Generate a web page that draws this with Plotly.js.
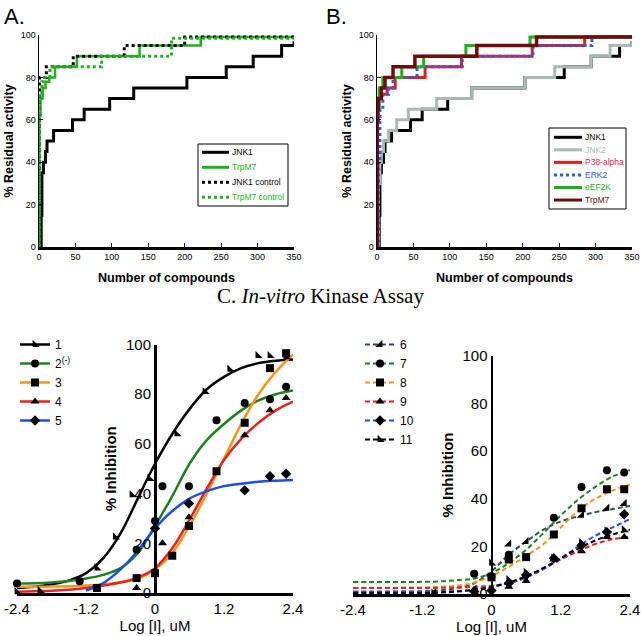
<!DOCTYPE html>
<html><head><meta charset="utf-8">
<script src="https://cdn.plot.ly/plotly-3.0.1.min.js"></script>
<style>html,body{margin:0;padding:0;background:#fff}#chart{width:641px;height:636px}</style>
</head><body><div id="chart"></div>
<script>
// ---------- Panel A data (step curves) ----------
const aJnk1X = [0, 3, 4, 6, 9, 11, 20, 46, 62, 97, 130, 203, 257, 294, 333, 350];
const aJnk1Y = [0, 15, 35, 40, 45, 50, 55, 60, 65, 70, 75, 80, 85, 90, 95, 97];
const aTrpX = [0, 0.5, 2, 5, 9, 14, 22, 52, 138, 222, 350];
const aTrpY = [0, 62, 70, 75, 78, 80, 85, 90, 95, 99, 100];
const aJnk1cX = [0, 0.8, 10, 47, 117, 200, 350];
const aJnk1cY = [0, 80, 85, 90, 95, 99, 99];
const aTrpcX = [0, 0.5, 4, 8, 15, 86, 182, 350];
const aTrpcY = [0, 72, 78, 80, 85, 90, 98.5, 99];
const aNames = ['JNK1', 'TrpM7', 'JNK1 control', 'TrpM7 control'];

// ---------- Panel B data ----------
const bJnk1X = [0, 3, 4, 6, 9, 11, 20, 46, 62, 97, 130, 203, 257, 294, 333, 350];
const bJnk1Y = [0, 15, 35, 40, 45, 50, 55, 60, 65, 70, 75, 80, 85, 90, 95, 97];
const bJnk2X = [0, 2, 4, 6, 9, 16, 27, 43, 82, 130, 203, 244, 294, 320, 350];
const bJnk2Y = [0, 30, 40, 45, 50, 55, 60, 65, 70, 75, 80, 85, 90, 95, 97];
const bP38X = [0, 0.5, 2, 6, 14, 25, 66, 116, 213, 285, 317, 350];
const bP38Y = [0, 60, 70, 72, 75, 80, 85, 90, 95, 99, 100, 100];
const bErkX = [0, 2, 4, 8, 16, 22, 55, 117, 214, 295, 306, 350];
const bErkY = [0, 40, 65, 72, 75, 80, 85, 90, 95, 99, 100, 100];
const bEefX = [0, 0.5, 3, 8, 34, 64, 122, 210, 350];
const bEefY = [0, 65, 75, 80, 85, 90, 95, 99, 100];
const bTrpX = [0, 0.5, 2, 6, 11, 22, 52, 137, 219, 350];
const bTrpY = [0, 65, 70, 75, 80, 85, 90, 95, 99, 100];
const bNames = ['JNK1', 'JNK2', 'P38-alpha', 'ERK2', 'eEF2K', 'TrpM7'];

// ---------- Panel C data ----------
const cTickVals = [-2.4, -1.2, 0, 1.2, 2.4];
const cTickText = ['-2.4', '-1.2', '0', '1.2', '2.4'];
const fitX = [-2.4, -2.1, -1.8, -1.5, -1.2, -0.9, -0.6, -0.3, 0, 0.3, 0.6, 0.9, 1.2, 1.5, 1.8, 2.1, 2.4];
// left: fitted curves
const fit1 = [2, 2.5, 3.5, 5, 8, 14, 24, 38, 52, 64, 74, 82, 87, 90.5, 92.5, 93.5, 94];
const fit2 = [3.8, 3.9, 4.2, 4.8, 5.8, 7.3, 10, 16, 27, 39, 52, 61.5, 68, 73.5, 77.5, 80, 81.5];
const fit3 = [2.5, 2.5, 2.6, 2.7, 3, 3.5, 4.3, 5.7, 9.5, 16, 27, 40, 54, 68, 80, 89, 96];
const fit4 = [0.5, 0.7, 0.9, 1.3, 2, 3, 4.2, 6.2, 10, 18, 29.5, 42, 53.5, 62, 68.5, 73.5, 77];
const fit5 = [null, null, null, null, 1, 4, 9.5, 17, 26, 33, 38, 41, 43, 44, 44.8, 45.2, 45.5];
// left: measured points
const p1X = [-2.4, -2.0, -1.01, -0.69, -0.40, -0.09, 0.38, 0.87, 1.30, 1.79, 2.0, 2.28];
const p1Y = [0.5, 1, 10, 22.5, 39.5, 46, 64, 81, 90, 95.5, 95.5, 95];
const p2X = [-2.4, -1.31, -0.32, 0, 0.13, 0.59, 1.07, 1.56, 2.0, 2.28];
const p2Y = [3.8, 4.7, 17.4, 29, 43, 43, 69.5, 76.5, 78, 83];
const p3X = [-1.01, -0.32, 0, 0.3, 0.59, 1.07, 1.56, 2.0, 2.28];
const p3Y = [2, 6, 8, 15, 27, 49, 68.5, 90.5, 96.5];
const p4X = [-0.32, 0.13, 0.59, 1.56, 2.0, 2.28];
const p4Y = [2, 20, 30.5, 63.5, 73.5, 78.5];
const p5X = [0, 0.59, 1.56, 2.0, 2.28];
const p5Y = [26, 36, 41.3, 47, 48];
const cLeftNames = ['1', '2<sup>(-)</sup>', '3', '4', '5'];
// right: fitted curves
const fit6 = [0.8, 0.8, 0.9, 1, 1.1, 1.5, 2.5, 4.5, 9.5, 16.5, 22, 27, 30.5, 32.6, 34.4, 35.7, 37];
const fit7 = [5, 5, 5, 5, 5.1, 5.3, 5.8, 6.5, 8.8, 13, 18.6, 25.6, 33, 39.6, 45, 49.4, 52];
const fit8 = [2.5, 2.5, 2.5, 2.6, 2.7, 3, 3.5, 4.8, 7.5, 11.5, 16, 21, 28, 35, 40, 43.5, 46];
const fit9 = [2.5, 2.5, 2.5, 2.5, 2.5, 2.6, 2.7, 3, 3.5, 4.5, 7, 10.5, 14.5, 18, 21, 23, 24];
const fit10 = [1, 1, 1, 1, 1, 1.1, 1.3, 1.8, 3, 4.5, 7, 10.5, 15, 20, 24.5, 28, 31.5];
const fit11 = [0.3, 0.3, 0.3, 0.3, 0.4, 0.6, 1, 1.8, 3, 4.8, 7.5, 11, 15, 19, 22.5, 25, 27];
// right: measured points
const p6X = [-1.0, -0.3, 0.3, 0.6, 1.56, 2.0, 2.3];
const p6Y = [0.5, 2, 21, 22, 33, 36, 38];
const p7X = [-0.3, 0, 0.3, 1.08, 1.56, 2.0, 2.3];
const p7Y = [8.5, 7.5, 16.5, 32, 45, 52, 51];
const p8X = [0, 0.3, 0.6, 1.08, 1.56, 2.0, 2.3];
const p8Y = [7, 14.5, 15.5, 25, 36, 44, 44];
const p9X = [0.3, 0.6, 1.08, 1.56, 2.0, 2.3];
const p9Y = [3, 5.5, 14.5, 18, 24, 24];
const p10X = [-0.3, 0, 0.3, 0.6, 1.08, 1.56, 2.0, 2.3];
const p10Y = [1, 1.5, 4.5, 8, 15, 20.5, 26, 33.5];
const p11X = [-1.0, -0.3, 0, 0.3, 0.6, 1.08, 1.56, 2.0, 2.3];
const p11Y = [0.3, 1, 13, 6, 9, 15, 21.5, 26.5, 27];
const cRightNames = ['6', '7', '8', '9', '10', '11'];

// ---------- helpers ----------
const W = 641, H = 636;
const fx = p => p / W;
const fy = p => 1 - p / H;
const SANS = 'Liberation Sans, Arial, sans-serif';

const traces = [];
const shapes = [];
const annotations = [];

function stepSeries(list, xa, ya) {
  list.forEach(s => traces.push({
    type: 'scatter', mode: 'lines', x: s.x, y: s.y, xaxis: xa, yaxis: ya,
    line: {shape: 'hv', color: s.color, width: s.width, dash: s.dash},
    cliponaxis: false, showlegend: false, hoverinfo: 'skip'
  }));
}
function manualLegend(list, names, box, x0, x1, tx, yStart, yStep) {
  shapes.push({type: 'rect', xref: 'paper', yref: 'paper',
    x0: fx(box[0]), x1: fx(box[1]), y0: fy(box[3]), y1: fy(box[2]),
    line: {color: '#000', width: 1}, fillcolor: 'rgba(0,0,0,0)'});
  list.forEach((s, i) => {
    const yy = fy(yStart + i * yStep);
    shapes.push({type: 'line', xref: 'paper', yref: 'paper', x0: fx(x0), x1: fx(x1), y0: yy, y1: yy,
      line: {color: s.color, width: 3, dash: s.dash}});
    annotations.push({xref: 'paper', yref: 'paper', x: fx(tx), y: yy, xanchor: 'left', yanchor: 'middle',
      text: names[i], showarrow: false, font: {family: SANS, size: 8.5, color: s.text}});
  });
}

// ---------- Panel A ----------
const aList = [
  {x: aJnk1X, y: aJnk1Y, color: '#000000', text: '#000000', width: 3, dash: 'solid'},
  {x: aTrpX, y: aTrpY, color: '#22b022', text: '#22b022', width: 2.5, dash: 'solid'},
  {x: aJnk1cX, y: aJnk1cY, color: '#000000', text: '#000000', width: 3, dash: 'dot'},
  {x: aTrpcX, y: aTrpcY, color: '#22b022', text: '#22b022', width: 3, dash: 'dot'}
];
stepSeries(aList, 'x', 'y');
manualLegend(aList, aNames, [198, 288, 144, 206], 202, 229, 230, 152.3, 15);

// ---------- Panel B ----------
const bList = [
  {x: bJnk1X, y: bJnk1Y, color: '#000000', text: '#000000', width: 3, dash: 'solid'},
  {x: bJnk2X, y: bJnk2Y, color: '#a9bab6', text: '#a9bab6', width: 3, dash: 'solid'},
  {x: bP38X, y: bP38Y, color: '#f01a1a', text: '#e8205a', width: 3, dash: 'solid'},
  {x: bErkX, y: bErkY, color: '#2a5ce8', text: '#2a5ce8', width: 3, dash: 'dot'},
  {x: bEefX, y: bEefY, color: '#1fb01f', text: '#1fb01f', width: 3, dash: 'solid'},
  {x: bTrpX, y: bTrpY, color: '#6e0c0c', text: '#6e0c0c', width: 3.5, dash: 'solid'}
];
stepSeries(bList, 'x2', 'y2');
manualLegend(bList, bNames, [549, 626, 128, 209], 554, 582, 583, 137.3, 12.55);

// ---------- Panel C ----------
const cLeft = [
  {fy: fit1, px: p1X, py: p1Y, color: '#000000', sym: 'triangle-sw'},
  {fy: fit2, px: p2X, py: p2Y, color: '#1f7f23', sym: 'circle'},
  {fy: fit3, px: p3X, py: p3Y, color: '#f7941d', sym: 'square'},
  {fy: fit4, px: p4X, py: p4Y, color: '#e8231f', sym: 'triangle-up'},
  {fy: fit5, px: p5X, py: p5Y, color: '#1f4fe0', sym: 'diamond'}
];
const cRight = [
  {fy: fit6, px: p6X, py: p6Y, color: '#2f4f4f', sym: 'triangle-se'},
  {fy: fit7, px: p7X, py: p7Y, color: '#1f7f23', sym: 'circle'},
  {fy: fit8, px: p8X, py: p8Y, color: '#f7941d', sym: 'square'},
  {fy: fit9, px: p9X, py: p9Y, color: '#e8231f', sym: 'triangle-up'},
  {fy: fit10, px: p10X, py: p10Y, color: '#1f4fe0', sym: 'diamond'},
  {fy: fit11, px: p11X, py: p11Y, color: '#000000', sym: 'triangle-sw'}
];
function doseSeries(list, names, xa, ya, lg, dash, lw) {
  list.forEach(s => traces.push({type: 'scatter', mode: 'lines', x: fitX, y: s.fy, xaxis: xa, yaxis: ya,
    line: {shape: 'spline', smoothing: 1, color: s.color, width: lw, dash: dash},
    connectgaps: false, showlegend: false, hoverinfo: 'skip'}));
  list.forEach(s => traces.push({type: 'scatter', mode: 'markers', x: s.px, y: s.py, xaxis: xa, yaxis: ya,
    marker: {symbol: s.sym, color: '#000', size: 8}, cliponaxis: false, showlegend: false, hoverinfo: 'skip'}));
  list.forEach((s, i) => traces.push({type: 'scatter', mode: 'lines+markers', x: [null], y: [null],
    xaxis: xa, yaxis: ya, name: names[i], legend: lg,
    line: {color: s.color, width: lw, dash: dash}, marker: {symbol: s.sym, color: '#000', size: 8}}));
}
doseSeries(cLeft, cLeftNames, 'x3', 'y3', 'legend', 'solid', 2.5);
doseSeries(cRight, cRightNames, 'x4', 'y4', 'legend2', '5px,3px', 2);

// ---------- Layout ----------
const tickA = {family: SANS, size: 9, color: '#000'};
const titleA = {family: SANS, size: 12.5, color: '#000', weight: 'bold'};
function xAB(domain, anchor) {
  return {domain: domain, anchor: anchor, range: [0, 350], tick0: 0, dtick: 50, ticks: 'inside', ticklen: 4,
    tickcolor: '#000', showline: true, linecolor: '#000', linewidth: 2.5, showgrid: false, zeroline: false,
    tickfont: tickA, title: {text: 'Number of compounds', font: titleA, standoff: 12}};
}
function yAB(domain, anchor) {
  return {domain: domain, anchor: anchor, range: [0, 100], tick0: 0, dtick: 20, ticks: 'inside', ticklen: 4,
    tickcolor: '#000', showline: true, linecolor: '#000', linewidth: 1.5, showgrid: false, zeroline: false,
    tickfont: tickA, title: {text: '% Residual activity', font: titleA, standoff: 4}};
}
const tickC = {family: SANS, size: 15, color: '#000'};
function xC(domain, anchor) {
  return {domain: domain, anchor: anchor, range: [-2.4, 2.4], tickvals: cTickVals, ticktext: cTickText,
    ticks: '', showline: true, linecolor: '#000', linewidth: 2.5, showgrid: false, zeroline: false,
    tickfont: tickC, title: {text: 'Log [I], uM', font: {family: SANS, size: 15, color: '#000'}, standoff: 2}};
}
function yC(domain, pos) {
  return {domain: domain, anchor: 'free', position: pos, range: [0, 100], tick0: 0, dtick: 20, ticks: '',
    showline: true, linecolor: '#000', linewidth: 2.5, showgrid: false, zeroline: false, tickfont: tickC,
    title: {text: '% Inhibition', font: {family: SANS, size: 15, color: '#000', weight: 'bold'}, standoff: 4}};
}
const dAx = [fx(39), fx(294)], dBx = [fx(377), fx(632)], dABy = [fy(247), fy(35)];
const dCLx = [fx(17), fx(293)], dCLy = [fy(593), fy(344.5)];
const dCRx = [fx(353), fx(630)], dCRy = [fy(594), fy(356)];

annotations.push({xref: 'paper', yref: 'paper', x: fx(2), y: fy(2), xanchor: 'left', yanchor: 'top',
  text: 'A.', showarrow: false, font: {family: SANS, size: 22, color: '#000'}});
annotations.push({xref: 'paper', yref: 'paper', x: fx(324), y: fy(2), xanchor: 'left', yanchor: 'top',
  text: 'B.', showarrow: false, font: {family: SANS, size: 22, color: '#000'}});
annotations.push({xref: 'paper', yref: 'paper', x: fx(320), y: fy(296), xanchor: 'center', yanchor: 'middle',
  text: 'C. <i>In-vitro</i> Kinase Assay', showarrow: false,
  font: {family: 'Liberation Serif, Times New Roman, serif', size: 21, color: '#000'}});

const legC = {font: {family: SANS, size: 12, color: '#000'}, bgcolor: 'rgba(0,0,0,0)', borderwidth: 0,
  xanchor: 'left', yanchor: 'top', itemclick: false, tracegroupgap: 0};
const layout = {
  width: W, height: H, margin: {l: 0, r: 0, t: 0, b: 0},
  paper_bgcolor: '#fff', plot_bgcolor: 'rgba(0,0,0,0)', showlegend: true,
  xaxis: xAB(dAx, 'y'), yaxis: yAB(dABy, 'x'),
  xaxis2: xAB(dBx, 'y2'), yaxis2: yAB(dABy, 'x2'),
  xaxis3: xC(dCLx, 'y3'), yaxis3: yC(dCLy, (dCLx[0] + dCLx[1]) / 2),
  xaxis4: xC(dCRx, 'y4'), yaxis4: yC(dCRy, (dCRx[0] + dCRx[1]) / 2),
  legend: Object.assign({}, legC, {x: fx(15), y: fy(330)}),
  legend2: Object.assign({}, legC, {x: fx(360), y: fy(330)}),
  shapes: shapes, annotations: annotations
};
Plotly.newPlot('chart', traces, layout, {displayModeBar: false, staticPlot: true});
</script></body></html>
